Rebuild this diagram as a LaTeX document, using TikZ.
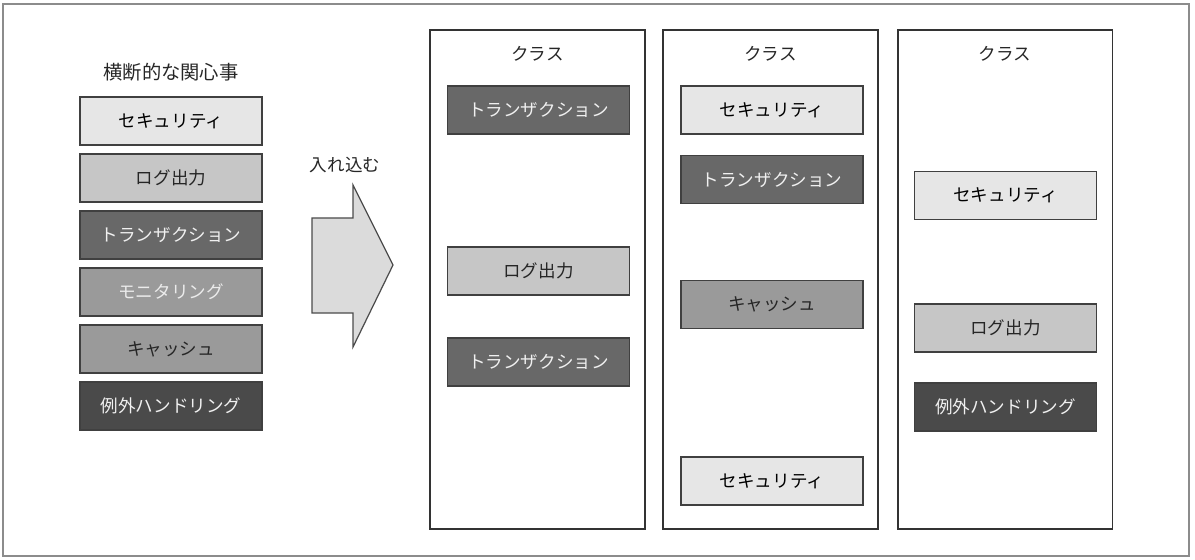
\documentclass[tikz,border=0pt]{standalone}
\usepackage{fontspec}
\setmainfont{Noto Sans CJK JP}
\usepackage{tikz}
\definecolor{lsec}{HTML}{E6E6E6}
\definecolor{llog}{HTML}{C6C6C6}
\definecolor{ltx}{HTML}{686868}
\definecolor{lmon}{HTML}{9A9A9A}
\definecolor{lexc}{HTML}{4A4A4A}
\definecolor{lline}{HTML}{404040}
\tikzset{
  aspect/.style={draw=lline, line width=0.8pt, minimum width=3.64cm, minimum height=0.96cm,
    inner sep=0pt, font=\fontsize{10}{12}\selectfont},
  secu/.style={aspect, fill=lsec, text=black},
  logout/.style={aspect, fill=llog, text=black!85},
  trans/.style={aspect, fill=ltx, text=white!94!black},
  monit/.style={aspect, fill=lmon, text=white!92!black},
  cache/.style={aspect, fill=lmon, text=black!85},
  excep/.style={aspect, fill=lexc, text=white!94!black},
  classbox/.style={draw=black!80, line width=1.1pt, minimum width=4.3cm, minimum height=9.98cm,
    inner sep=0pt},
  caption/.style={font=\fontsize{10}{12}\selectfont, text=black!85}
}

\begin{document}
\begin{tikzpicture}[x=0.02cm, y=-0.02cm]
\useasboundingbox (0,0) rectangle (1195,560);
\draw[black!45, line width=0.6pt] (3,4) rectangle (1189,556);

% concerns
\node[caption, font=\fontsize{11}{13}\selectfont] (title) at (171,72) {横断的な関心事};
\foreach \n/\s/\t [count=\i from 0] in {sec/secu/セキュリティ, log/logout/ログ出力,
  tx/trans/トランザクション, mon/monit/モニタリング, cache/cache/キャッシュ,
  exc/excep/例外ハンドリング}
{
  \node[\s] (\n) at (171,{121+57*\i}) {\t};
}

% weave arrow
\node[caption] (weave) at (345,165) {入れ込む};
\draw[draw=black!70, fill=black!14, line width=0.7pt]
  (312,218) -- (353,218) -- (353,185) -- (393,265) -- (353,347) -- (353,313) -- (312,313) -- cycle;

% classes
\node[classbox] (c1) at (537.5,279.5) {};
\node[classbox] (c2) at (770.5,279.5) {};
\node[classbox] (c3) at (1005,279.5) {};
\foreach \c in {c1,c2,c3}
{
  \node[caption] (\c l) at ([yshift=-0.5cm]\c.north) {クラス};
}

\node[trans] (c1a) at (538.5,110) {トランザクション};
\node[logout] (c1b) at (538.5,271) {ログ出力};
\node[trans] (c1c) at (538.5,362) {トランザクション};

\node[secu] (c2a) at (772,110) {セキュリティ};
\node[trans] (c2b) at (772,179.5) {トランザクション};
\node[cache] (c2c) at (772,304.5) {キャッシュ};
\node[secu] (c2d) at (772,481) {セキュリティ};

\node[secu] (c3a) at (1005.5,195.5) {セキュリティ};
\node[logout] (c3b) at (1005.5,328) {ログ出力};
\node[excep] (c3c) at (1005.5,407) {例外ハンドリング};
\end{tikzpicture}
\end{document}
